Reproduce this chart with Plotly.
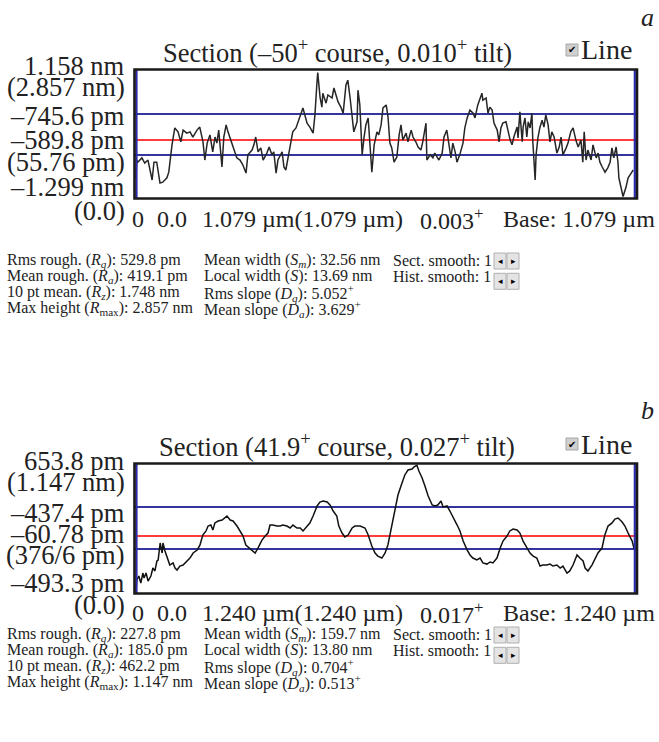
import plotly.graph_objects as go

W, H = 659, 742
SERIF = "Liberation Serif"

# ---------------- data: section a (distance nm, height nm) ----------------
a_x_nm = [0, 2, 4, 13, 19, 26, 35, 39, 45, 52, 58, 67, 71, 78, 84, 91, 97, 102, 110, 117,
          123, 132, 138, 145, 149, 154, 160, 166, 171, 175, 179, 186, 190, 195, 199, 205, 210,
          218, 225, 231, 238, 242, 251, 255, 259, 264, 270, 275, 283, 288, 294, 298, 303, 307,
          316, 320, 324, 329, 335, 339, 346, 350, 357, 361, 370, 376, 383, 387, 391, 393, 398,
          402, 404, 411, 415, 424, 428, 432, 437, 443, 448, 454, 458, 463, 467, 471, 478, 480,
          484, 489, 493, 497, 502, 508, 510, 515, 521, 525, 530, 534, 541, 545, 549, 553, 558,
          564, 569, 573, 577, 584, 588, 595, 599, 605, 610, 616, 620, 627, 629, 636, 642, 646,
          651, 655, 662, 666, 672, 677, 681, 685, 690, 694, 700, 707, 711, 716, 722, 729, 733,
          739, 744, 748, 750, 757, 761, 765, 770, 774, 781, 785, 789, 793, 800, 804, 809, 813,
          817, 824, 826, 830, 835, 837, 841, 845, 848, 852, 856, 858, 863, 865, 869, 873, 878,
          882, 886, 891, 895, 899, 904, 910, 915, 919, 923, 930, 934, 940, 945, 951, 956, 962,
          966, 969, 973, 977, 984, 988, 995, 999, 1003, 1008, 1014, 1020, 1025, 1029, 1033,
          1038, 1042, 1044, 1051, 1053, 1059, 1064, 1072, 1075]
a_h_nm = [0.43, 0.84, 0.79, 0.89, 0.77, 0.84, 0.38, 0.79, 0.79, 0.31, 0.33, 0.43, 0.56, 1.19,
          1.58, 1.49, 1.26, 1.53, 1.46, 1.49, 1.37, 1.53, 1.60, 1.26, 0.84, 1.23, 1.42, 1.03,
          1.37, 1.23, 1.53, 0.68, 1.37, 1.65, 1.49, 1.30, 1.19, 0.89, 0.84, 0.73, 0.54, 0.96,
          1.07, 1.19, 1.37, 1.03, 1.12, 0.84, 1.00, 1.14, 0.96, 1.03, 0.54, 0.84, 1.03, 0.68,
          0.61, 0.89, 1.26, 1.49, 1.58, 1.69, 1.92, 2.04, 1.69, 1.60, 1.46, 1.88, 2.57, 2.857,
          2.29, 2.06, 2.38, 2.15, 2.34, 2.27, 2.50, 2.38, 2.18, 2.06, 1.92, 2.57, 2.68, 2.27,
          1.88, 1.49, 1.72, 2.45, 2.11, 0.96, 1.35, 1.65, 1.81, 1.00, 0.56, 1.19, 1.49, 1.42,
          1.65, 2.04, 2.11, 1.83, 1.23, 1.12, 0.79, 0.91, 1.42, 1.65, 1.30, 1.46, 1.26, 1.53,
          1.37, 1.26, 1.14, 1.07, 1.26, 1.69, 0.84, 0.96, 0.89, 1.00, 0.89, 0.84, 1.00, 1.37,
          1.53, 1.19, 0.89, 1.23, 1.03, 0.79, 0.96, 1.23, 1.58, 1.81, 1.99, 1.92, 1.81, 2.11,
          2.27, 2.38, 2.22, 2.27, 1.92, 2.06, 1.99, 1.69, 1.53, 1.26, 1.58, 1.69, 1.72, 1.53,
          1.30, 1.19, 1.37, 1.60, 1.35, 1.95, 1.26, 1.60, 1.81, 1.37, 1.72, 1.58, 1.92, 1.26,
          0.38, 0.96, 1.35, 1.58, 1.76, 1.60, 1.88, 1.65, 1.26, 1.49, 1.37, 1.00, 1.14, 1.37,
          0.96, 1.12, 1.23, 1.49, 1.58, 1.30, 1.14, 1.30, 0.79, 1.49, 0.84, 1.07, 0.84, 1.19,
          0.89, 1.00, 0.79, 0.68, 0.56, 0.66, 0.79, 1.12, 0.89, 1.14, 0.79, 0.43, 0.08, 0.0,
          0.20, 0.43, 0.56, 0.61]
a_ref_blue_nm = [1.90, 0.956]
a_ref_red_nm = [1.30]

# ---------------- data: section b (distance nm, height pm) ----------------
b_x_nm = [0, 2, 7, 12, 17, 20, 25, 30, 37, 42, 47, 52, 55, 60, 65, 67, 72, 77, 84, 92, 97,
          102, 109, 117, 127, 134, 142, 152, 159, 166, 174, 179, 186, 191, 196, 204, 214, 221,
          226, 234, 241, 251, 258, 266, 273, 281, 291, 296, 303, 313, 321, 328, 333, 340, 350,
          358, 365, 375, 383, 390, 400, 408, 415, 425, 432, 440, 450, 457, 465, 475, 482, 490,
          499, 504, 512, 519, 527, 537, 544, 557, 569, 577, 586, 594, 601, 611, 619, 626, 636,
          644, 651, 661, 668, 676, 686, 691, 698, 703, 711, 718, 726, 736, 743, 750, 758, 763,
          773, 780, 788, 798, 805, 813, 823, 830, 837, 847, 855, 862, 872, 880, 887, 897, 905,
          912, 922, 929, 937, 947, 954, 962, 972, 979, 987, 996, 1004, 1011, 1021, 1029, 1036,
          1046, 1054, 1061, 1071, 1078, 1086, 1096, 1103, 1111, 1116, 1123, 1133, 1141, 1148,
          1158, 1165, 1173, 1183, 1190, 1198, 1208, 1215, 1223, 1233, 1238]
b_h_pm = [0, 100, 137, 73, 164, 119, 164, 91, 137, 210, 183, 274, 283, 438, 347, 438, 365,
          319, 237, 256, 210, 192, 228, 237, 274, 301, 347, 374, 420, 511, 548, 593, 602, 557,
          621, 639, 648, 666, 684, 648, 639, 593, 548, 502, 420, 392, 365, 347, 392, 465, 502,
          529, 602, 602, 593, 593, 602, 593, 575, 602, 575, 575, 548, 593, 621, 684, 776, 812,
          821, 812, 785, 730, 684, 593, 529, 493, 511, 575, 593, 593, 575, 511, 411, 347, 319,
          301, 347, 420, 602, 757, 876, 986, 1059, 1104, 1113, 1132, 1147, 1095, 1031, 958,
          867, 785, 776, 785, 821, 767, 776, 730, 666, 602, 548, 456, 374, 329, 301, 283, 301,
          256, 246, 265, 256, 301, 392, 456, 502, 548, 566, 557, 529, 456, 392, 347, 319, 301,
          228, 237, 237, 246, 228, 237, 210, 228, 164, 183, 237, 329, 301, 274, 210, 183, 237,
          301, 347, 392, 511, 593, 621, 657, 666, 630, 593, 529, 456, 380]
b_ref_blue_pm = [766, 383]
b_ref_red_pm = [502]

# ---------------- text ----------------
a_title = "Section (–50<sup>+</sup> course, 0.010<sup>+</sup> tilt)"
b_title = "Section (41.9<sup>+</sup> course, 0.027<sup>+</sup> tilt)"
a_ylabels = ["1.158 nm", "(2.857 nm)", "–745.6 pm", "–589.8 pm", "(55.76 pm)", "–1.299 nm", "(0.0)"]
b_ylabels = ["653.8 pm", "(1.147 nm)", "–437.4 pm", "–60.78 pm", "(376/6 pm)", "–493.3 pm", "(0.0)"]
a_xlabels = ["0", "0.0", "1.079 µm(1.079 µm)", "0.003<sup>+</sup>", "Base: 1.079 µm"]
b_xlabels = ["0", "0.0", "1.240 µm(1.240 µm)", "0.017<sup>+</sup>", "Base: 1.240 µm"]
a_stats_col1 = ["Rms rough. (<i>R</i><sub><i>q</i></sub>): 529.8 pm",
                "Mean rough. (<i>R</i><sub><i>a</i></sub>): 419.1 pm",
                "10 pt mean. (<i>R</i><sub><i>z</i></sub>): 1.748 nm",
                "Max height (<i>R</i><sub>max</sub>): 2.857 nm"]
a_stats_col2 = ["Mean width (<i>S</i><sub><i>m</i></sub>): 32.56 nm",
                "Local width (<i>S</i>): 13.69 nm",
                "Rms slope (<i>D</i><sub><i>q</i></sub>): 5.052<sup>+</sup>",
                "Mean slope (<i>D</i><sub><i>a</i></sub>): 3.629<sup>+</sup>"]
b_stats_col1 = ["Rms rough. (<i>R</i><sub><i>q</i></sub>): 227.8 pm",
                "Mean rough. (<i>R</i><sub><i>a</i></sub>): 185.0 pm",
                "10 pt mean. (<i>R</i><sub><i>z</i></sub>): 462.2 pm",
                "Max height (<i>R</i><sub>max</sub>): 1.147 nm"]
b_stats_col2 = ["Mean width (<i>S</i><sub><i>m</i></sub>): 159.7 nm",
                "Local width (<i>S</i>): 13.80 nm",
                "Rms slope (<i>D</i><sub><i>q</i></sub>): 0.704<sup>+</sup>",
                "Mean slope (<i>D</i><sub><i>a</i></sub>): 0.513<sup>+</sup>"]
smooth_labels = ["Sect. smooth: 1", "Hist. smooth: 1"]


def px(x):
    return x / W


def py(y):
    return 1 - y / H


BOX_L, BOX_R = 134.5, 637
PLOT_L, PLOT_R = 135, 636

fig = go.Figure()
fig.add_trace(go.Scatter(x=a_x_nm, y=a_h_nm, mode="lines", xaxis="x", yaxis="y",
                         line=dict(color="#262626", width=1.5), showlegend=False, hoverinfo="skip"))
fig.add_trace(go.Scatter(x=b_x_nm, y=b_h_pm, mode="lines", xaxis="x2", yaxis="y2",
                         line=dict(color="#111111", width=1.5), showlegend=False, hoverinfo="skip"))

shapes = []
annotations = []


def text(x, y, s, size, xanchor="left", italic=False, color="#222222", family=SERIF):
    annotations.append(dict(x=px(x), y=py(y), xref="paper", yref="paper", text=s,
                            showarrow=False, xanchor=xanchor, yanchor="middle",
                            borderpad=0, font=dict(family=family, size=size, color=color,
                                                   style="italic" if italic else "normal")))


BLUE = "#34349e"
RED = "#ff3c3c"


def panel(top, bottom, xa, ya, blue_vals, red_vals, title, ylabels, ylab_pos, xlabels, xlab_y,
          letter, letter_y, col1, col2, stats_y0):
    # reference lines
    for v in blue_vals:
        shapes.append(dict(type="line", xref=xa + " domain", yref=ya, x0=0, x1=1, y0=v, y1=v,
                           line=dict(color=BLUE, width=2), layer="below"))
    for v in red_vals:
        shapes.append(dict(type="line", xref=xa + " domain", yref=ya, x0=0, x1=1, y0=v, y1=v,
                           line=dict(color=RED, width=2), layer="below"))
    # blue side bars
    for xx in (136.5, 634.8):
        shapes.append(dict(type="line", xref="paper", yref="paper", x0=px(xx), x1=px(xx),
                           y0=py(top), y1=py(bottom), line=dict(color="#2c2cb0", width=2.2)))
    # frame
    shapes.append(dict(type="rect", xref="paper", yref="paper", x0=px(BOX_L), x1=px(BOX_R),
                       y0=py(bottom + 0.5), y1=py(top - 0.5), line=dict(color="#1a1a1a", width=2.6)))
    # title, checkbox
    text(337, top - 19, title, 26.5, xanchor="center")
    shapes.append(dict(type="rect", xref="paper", yref="paper", x0=px(566), x1=px(578),
                       y0=py(top - 14), y1=py(top - 26), fillcolor="#cfcfcf",
                       line=dict(color="#a8a8a8", width=1)))
    text(572, top - 20, "✔", 10, xanchor="center", color="#000000", family="DejaVu Sans")
    text(580, top - 20, "Line", 28)
    text(655, letter_y, letter, 26, xanchor="right", italic=True)
    # y labels
    for s, yy in zip(ylabels, ylab_pos):
        text(126, yy, s, 26.5, xanchor="right")
    # x labels
    for s, xx in zip(xlabels, [131, 156, 201, 419, 502]):
        text(xx, xlab_y, s, 24)
    # stats
    for i, s in enumerate(col1):
        text(6, stats_y0 + i * 16.3, s, 16)
    for i, s in enumerate(col2):
        text(203, stats_y0 + i * 16.3, s, 16)
    for i, s in enumerate(smooth_labels):
        yy = stats_y0 + i * 16.3
        text(392, yy, s, 16)
        by = yy + 1 + i * 4
        for bx0, arrow in ((494, "◂"), (507, "▸")):
            shapes.append(dict(type="rect", xref="paper", yref="paper", x0=px(bx0), x1=px(bx0 + 12),
                               y0=py(by + 8), y1=py(by - 8), fillcolor="#e4e4e4",
                               line=dict(color="#b0b0b0", width=1)))
            text(bx0 + 6, by, arrow, 9, xanchor="center", color="#000000", family="DejaVu Sans")


panel(70, 198, "x", "y", a_ref_blue_nm, a_ref_red_nm, a_title, a_ylabels,
      [66, 87, 116, 140, 162, 187, 211], a_xlabels, 219, "a", 18, a_stats_col1, a_stats_col2, 260)
panel(464, 593, "x2", "y2", b_ref_blue_pm, b_ref_red_pm, b_title, b_ylabels,
      [461, 482, 513, 534, 555, 583, 605], b_xlabels, 613, "b", 410, b_stats_col1, b_stats_col2, 634)

ax_common = dict(visible=False, showgrid=False, zeroline=False, fixedrange=True)
fig.update_layout(
    width=W, height=H, margin=dict(l=0, r=0, t=0, b=0),
    paper_bgcolor="white", plot_bgcolor="white",
    xaxis=dict(domain=[px(PLOT_L), px(PLOT_R)], range=[-2, 1081], anchor="y", **ax_common),
    yaxis=dict(domain=[py(198), py(70)], range=[-0.035, 2.915], anchor="x", **ax_common),
    xaxis2=dict(domain=[px(PLOT_L), px(PLOT_R)], range=[-2.5, 1242.5], anchor="y2", **ax_common),
    yaxis2=dict(domain=[py(593), py(464)], range=[-18, 1159], anchor="x2", **ax_common),
    shapes=shapes, annotations=annotations, showlegend=False,
)

fig.write_html("out.html")
